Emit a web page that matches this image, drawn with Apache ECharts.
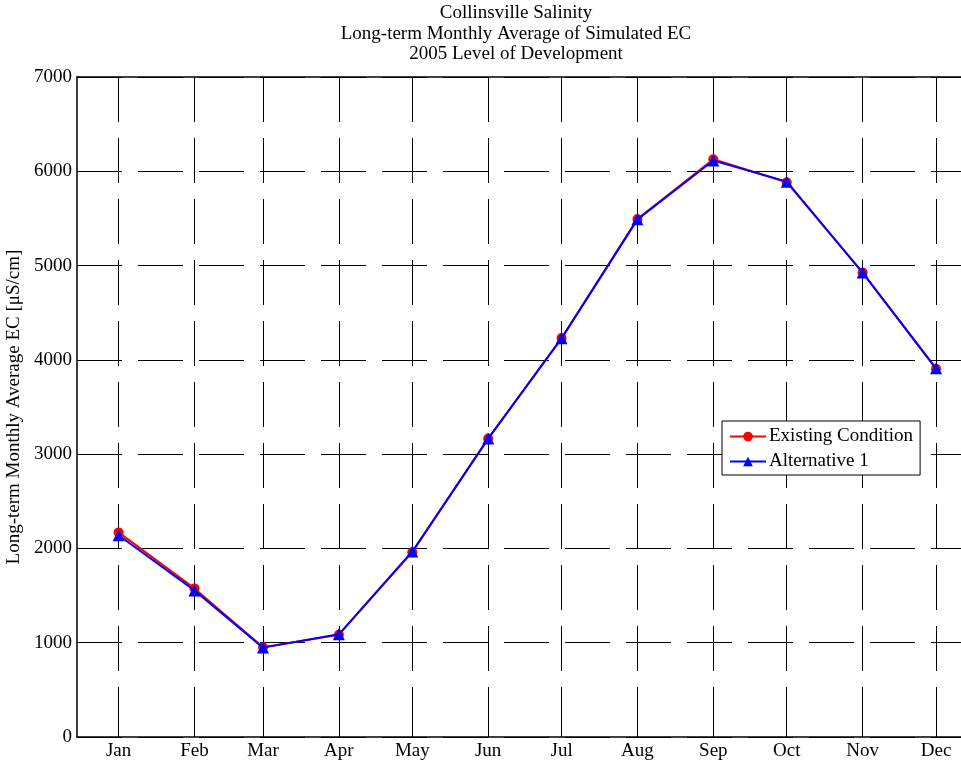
<!DOCTYPE html>
<html>
<head>
<meta charset="utf-8">
<script src="https://cdn.jsdelivr.net/npm/echarts@6/dist/echarts.min.js"></script>
<style>html,body{margin:0;padding:0;background:#fff}#c{width:961px;height:765px}</style>
</head>
<body>
<div id="c"></div>
<script>
const titleLines = ['Collinsville Salinity', 'Long-term Monthly Average of Simulated EC', '2005 Level of Development'];
const yAxisName = 'Long-term Monthly Average EC [\u03bcS/cm]';
const months = ['Jan','Feb','Mar','Apr','May','Jun','Jul','Aug','Sep','Oct','Nov','Dec'];
const monthDay = [15, 46, 74, 105, 135, 166, 196, 227, 258, 288, 319, 349];
const existing = [2170, 1576, 951, 1085, 1960, 3165, 4232, 5493, 6127, 5884, 4926, 3905];
const alternative1 = [2140, 1555, 948, 1089, 1968, 3165, 4228, 5490, 6115, 5890, 4926, 3910];
const seriesNames = ['Existing Condition', 'Alternative 1'];
const yTicks = [0, 1000, 2000, 3000, 4000, 5000, 6000, 7000];

const FONT = 'Liberation Serif';
const FS = 19;
const dash = {color: '#000', width: 1, type: [45, 16]};

const chart = echarts.init(document.getElementById('c'), null, {renderer: 'canvas'});
const toPts = arr => arr.map((v, i) => [monthDay[i], v]);

chart.setOption({
  animation: false,
  backgroundColor: '#fff',
  title: {
    text: titleLines.join('\n'),
    left: 516, top: 3, textAlign: 'center', padding: 0,
    textStyle: {fontFamily: FONT, fontSize: FS, fontWeight: 'normal', color: '#000', lineHeight: 20.5}
  },
  grid: {left: 77, top: 77, right: 0, bottom: 28, outerBoundsMode: 'none', containLabel: false},
  legend: {
    orient: 'vertical',
    left: 722, top: 421,
    backgroundColor: '#fff',
    borderColor: '#000', borderWidth: 1, borderRadius: 0,
    padding: [6, 7, 4, 7],
    itemWidth: 36, itemHeight: 12, itemGap: 6,
    textStyle: {fontFamily: FONT, fontSize: FS, color: '#000', padding: [0, 0, 0, -2]},
    data: seriesNames
  },
  xAxis: [{
    type: 'value', min: -2, max: 359.2,
    position: 'bottom',
    axisLine: {show: true, onZero: false, lineStyle: {color: '#000', width: 1.5}},
    axisTick: {show: true, inside: true, length: 8, customValues: monthDay, lineStyle: {color: '#000'}},
    axisLabel: {
      customValues: monthDay, margin: 5,
      fontFamily: FONT, fontSize: FS, color: '#000',
      formatter: v => months[monthDay.indexOf(Math.round(v))] || ''
    },
    splitLine: {show: true, lineStyle: dash}
  }, {
    type: 'value', min: -2, max: 359.2,
    position: 'top',
    axisLine: {show: true, onZero: false, lineStyle: {color: '#000', width: 1.5}},
    axisTick: {show: true, inside: true, length: 8, customValues: monthDay, lineStyle: {color: '#000'}},
    axisLabel: {show: false},
    splitLine: {show: false}
  }],
  yAxis: [{
    type: 'value', min: 0, max: 7000, interval: 1000,
    name: yAxisName, nameLocation: 'middle', nameGap: 45, nameRotate: 90,
    nameTextStyle: {fontFamily: FONT, fontSize: FS, color: '#000'},
    axisLine: {show: true, onZero: false, lineStyle: {color: '#000', width: 1.5}},
    axisTick: {show: true, inside: true, length: 8, lineStyle: {color: '#000'}},
    axisLabel: {margin: 5, fontFamily: FONT, fontSize: FS, color: '#000',
      formatter: v => yTicks.includes(v) ? String(v) : ''},
    splitLine: {show: true, lineStyle: dash}
  }],
  series: [{
    name: seriesNames[0], type: 'line', data: toPts(existing),
    symbol: 'circle', symbolSize: 10,
    itemStyle: {color: '#ff0000'},
    lineStyle: {color: '#ff0000', width: 2},
    z: 3
  }, {
    name: seriesNames[1], type: 'line', data: toPts(alternative1),
    symbol: 'triangle', symbolSize: 12,
    itemStyle: {color: '#0000ff'},
    lineStyle: {color: '#0000ff', width: 2},
    z: 4
  }]
});
</script>
</body>
</html>
